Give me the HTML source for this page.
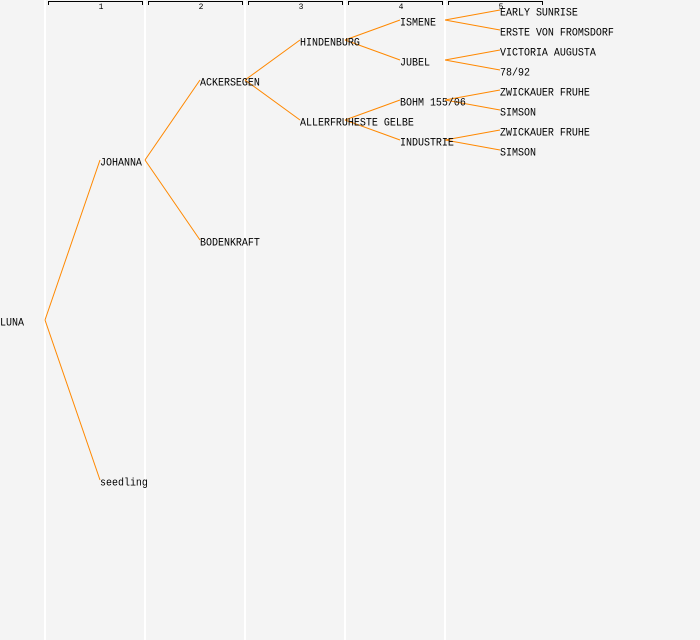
<!DOCTYPE html>
<html><head><style>body{margin:0;background:#f4f4f4}svg{display:block}</style></head><body>
<svg width="700" height="640" xmlns="http://www.w3.org/2000/svg" font-family="Liberation Mono, monospace">
<rect width="700" height="640" fill="#f4f4f4"/>
<g stroke="#fff" stroke-width="2">
<line x1="45" y1="0" x2="45" y2="640"/><line x1="145" y1="0" x2="145" y2="640"/><line x1="245" y1="0" x2="245" y2="640"/><line x1="345" y1="0" x2="345" y2="640"/><line x1="445" y1="0" x2="445" y2="640"/>
</g>
<g stroke="#000" fill="none" stroke-width="1">
<path d="M48.5 5V1.5H142.5V5"/><path d="M148.5 5V1.5H242.5V5"/><path d="M248.5 5V1.5H342.5V5"/><path d="M348.5 5V1.5H442.5V5"/><path d="M448.5 5V1.5H542.5V5"/>
</g>
<g font-size="8" text-anchor="middle" fill="#000">
<text x="101" y="9">1</text><text x="201" y="9">2</text><text x="301" y="9">3</text><text x="401" y="9">4</text><text x="501" y="9">5</text>
</g>
<g stroke="#ff8800" stroke-width="1" fill="none">
<path d="M45 320L100 160M45 320L100 480"/>
<path d="M145 160L200 80M145 160L200 240"/>
<path d="M245 80L300 40M245 80L300 120"/>
<path d="M345 40L400 20M345 40L400 60M345 120L400 100M345 120L400 140"/>
<path d="M445 20L500 10M445 20L500 30M445 60L500 50M445 60L500 70M445 100L500 90M445 100L500 110M445 140L500 130M445 140L500 150"/>
</g>
<g font-size="10" fill="#000" transform="translate(0,-13) scale(1,1.08)">
<text x="0" y="313.5">LUNA</text>
<text x="100" y="165.3">JOHANNA</text><text x="100" y="461.5">seedling</text>
<text x="200" y="91.3">ACKERSEGEN</text><text x="200" y="239.5">BODENKRAFT</text>
<text x="300" y="54.3">HINDENBURG</text><text x="300" y="128.3">ALLERFRUHESTE GELBE</text>
<text x="400" y="35.8">ISMENE</text><text x="400" y="72.8">JUBEL</text><text x="400" y="109.8">BOHM 155/06</text><text x="400" y="146.8">INDUSTRIE</text>
<text x="500" y="26.6">EARLY SUNRISE</text><text x="500" y="45.1">ERSTE VON FROMSDORF</text>
<text x="500" y="63.6">VICTORIA AUGUSTA</text><text x="500" y="82.1">78/92</text>
<text x="500" y="100.6">ZWICKAUER FRUHE</text><text x="500" y="119.1">SIMSON</text>
<text x="500" y="137.6">ZWICKAUER FRUHE</text><text x="500" y="156.1">SIMSON</text>
</g>
</svg>
</body></html>
